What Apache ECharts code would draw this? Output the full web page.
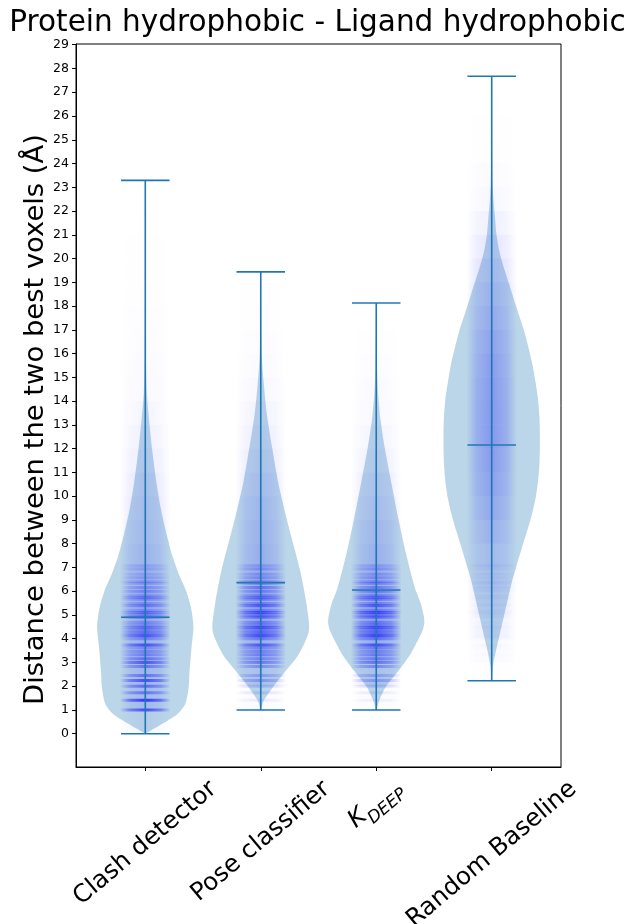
<!DOCTYPE html>
<html>
<head>
<meta charset="utf-8">
<script src="https://cdn.jsdelivr.net/npm/echarts@6/dist/echarts.min.js"></script>
<style>
  html, body { margin: 0; padding: 0; background: #fff; }
  #main { width: 635px; height: 924px; }
</style>
</head>
<body>
<div id="main"></div>
<script>
// categories and summary values (min / max / mean line per violin)
var categories = ['Clash detector', 'Pose classifier', 'K_DEEP', 'Random Baseline'];
var minVals = [0, 1.0, 1.0, 2.23];
var maxVals = [23.29, 19.44, 18.13, 27.67];
var meanVals = [4.9, 6.36, 6.05, 12.15];
var yTicks = [0,1,2,3,4,5,6,7,8,9,10,11,12,13,14,15,16,17,18,19,20,21,22,23,24,25,26,27,28,29];

// violin outlines: distance value and relative half width (1 = widest)
var clashY = [0, 0.25, 0.55, 0.83, 1.25, 1.95, 2.65, 3.63, 4.5, 5.3, 6.0, 6.7, 7.5, 8.5, 9.5, 10.6, 12.0, 13.4, 14.4, 16, 19, 23.29];
var clashW = [0, 0.21, 0.46, 0.67, 0.83, 0.9, 0.92, 0.96, 1.0, 0.95, 0.85, 0.7, 0.56, 0.43, 0.32, 0.23, 0.14, 0.07, 0.03, 0.012, 0.006, 0];
var poseY = [0.97, 1.39, 1.95, 2.65, 3.35, 4.33, 5.45, 6.85, 8.25, 9.2, 10.6, 12.0, 13.4, 14.8, 16, 19.44];
var poseW = [0, 0.06, 0.25, 0.52, 0.79, 1.0, 0.95, 0.82, 0.64, 0.52, 0.36, 0.24, 0.13, 0.06, 0.02, 0];
var kdeepY = [0.97, 1.39, 1.95, 2.65, 3.35, 4.33, 4.75, 5.45, 6.16, 7.56, 8.96, 10.6, 12.0, 13.2, 14.3, 15.5, 18.13];
var kdeepW = [0, 0.06, 0.19, 0.46, 0.71, 0.96, 1.0, 0.93, 0.8, 0.62, 0.47, 0.31, 0.18, 0.09, 0.04, 0.015, 0];
var randomY = [2.23, 2.9, 3.6, 4.3, 5.0, 5.7, 6.4, 7.1, 7.85, 8.5, 9.2, 9.9, 10.6, 11.3, 12.0, 12.7, 13.4, 14.1, 14.8, 15.5, 16.2, 16.9, 17.6, 18.3, 19.0, 19.7, 20.3, 21.0, 21.7, 22.4, 23.1, 24.5, 27.67];
var randomW = [0, 0.03, 0.1, 0.18, 0.26, 0.34, 0.42, 0.52, 0.63, 0.73, 0.83, 0.91, 0.96, 0.99, 1.0, 1.0, 0.99, 0.96, 0.91, 0.85, 0.77, 0.68, 0.57, 0.46, 0.35, 0.24, 0.16, 0.1, 0.07, 0.04, 0.02, 0.008, 0];

// jittered points: stripes at the discrete voxel distances (intensity 0..1)
var stripeLevels = [1, 1.41, 1.73, 2, 2.24, 2.45, 2.83, 3, 3.16, 3.32, 3.46, 3.61, 3.74, 4, 4.12, 4.24, 4.36, 4.47, 4.58, 4.69, 4.9, 5, 5.1, 5.2, 5.39, 5.48, 5.66, 5.74, 5.83, 6, 6.16, 6.32, 6.4, 6.56, 6.71, 6.93, 7.07];
var clashStripes = [0.85, 1.0, 0.55, 0.6, 0.8, 0.55, 0.5, 0.75, 0.55, 0.45, 0.4, 0.35, 0.8, 0.4, 0.75, 0.55, 0.45, 0.55, 0.35, 0.35, 0.55, 0.4, 0.55, 0.35, 0.5, 0.3, 0.35, 0.45, 0.25, 0.4, 0.35, 0.25, 0.3, 0.25, 0.2, 0.2, 0.2];
var poseStripes = [0.05, 0.1, 0.15, 0.2, 0.35, 0.3, 0.4, 0.5, 0.4, 0.45, 0.4, 0.4, 0.75, 0.45, 0.8, 0.6, 0.5, 0.75, 0.45, 0.45, 0.6, 0.5, 0.75, 0.45, 0.7, 0.4, 0.45, 0.5, 0.35, 0.45, 0.5, 0.35, 0.4, 0.35, 0.3, 0.3, 0.25];
var kdeepStripes = [0.05, 0.08, 0.12, 0.2, 0.35, 0.3, 0.45, 0.55, 0.45, 0.45, 0.4, 0.45, 0.8, 0.5, 0.85, 0.6, 0.55, 0.75, 0.5, 0.45, 0.6, 0.5, 0.8, 0.45, 0.7, 0.4, 0.5, 0.55, 0.35, 0.5, 0.45, 0.35, 0.4, 0.35, 0.3, 0.3, 0.25];
var randomStripes = [0, 0, 0, 0, 0, 0, 0, 0, 0, 0.02, 0, 0.02, 0.03, 0.03, 0.04, 0.03, 0.03, 0.05, 0.03, 0.03, 0.05, 0.04, 0.05, 0.04, 0.05, 0.04, 0.05, 0.05, 0.05, 0.06, 0.06, 0.06, 0.06, 0.06, 0.07, 0.07, 0.07];

// jittered points: diffuse cloud, one value per unit bin starting at cloudBins[k]
var cloudBins = [0,1,2,3,4,5,6,7,8,9,10,11,12,13,14,15,16,17,18,19,20,21,22,23,24,25,26,27];
var clashCloud = [0.1, 0.35, 0.4, 0.45, 0.5, 0.5, 0.45, 0.4, 0.34, 0.3, 0.25, 0.19, 0.14, 0.1, 0.07, 0.05, 0.035, 0.025, 0.018, 0.012, 0.008, 0.005, 0.004, 0, 0, 0, 0, 0];
var poseCloud = [0, 0.05, 0.25, 0.45, 0.55, 0.55, 0.5, 0.47, 0.42, 0.37, 0.3, 0.23, 0.17, 0.12, 0.08, 0.05, 0.03, 0.015, 0.008, 0, 0, 0, 0, 0, 0, 0, 0, 0];
var kdeepCloud = [0, 0.04, 0.25, 0.5, 0.6, 0.55, 0.5, 0.44, 0.37, 0.3, 0.23, 0.16, 0.11, 0.07, 0.045, 0.025, 0.012, 0.006, 0, 0, 0, 0, 0, 0, 0, 0, 0, 0];
var randomCloud = [0, 0, 0.02, 0.06, 0.12, 0.18, 0.25, 0.32, 0.42, 0.52, 0.6, 0.66, 0.7, 0.7, 0.68, 0.64, 0.58, 0.5, 0.42, 0.34, 0.25, 0.15, 0.08, 0.04, 0.02, 0.01, 0.005, 0];

var violinY = [clashY, poseY, kdeepY, randomY];
var violinW = [clashW, poseW, kdeepW, randomW];
var stripes = [clashStripes, poseStripes, kdeepStripes, randomStripes];
var clouds = [clashCloud, poseCloud, kdeepCloud, randomCloud];

var Y_MIN = -1.4, Y_MAX = 29.03;
var HALF = 0.417;      // widest violin half width (x units)
var CAP = 0.21;        // cap half width
var SPREAD = 0.22;     // point jitter half width
var BLUE = '#1f77b4';
var FONT = '"DejaVu Sans", sans-serif';

var cloudData = [];
var stripeData = [];
for (var c = 0; c < 4; c++) {
  for (var b = 0; b < cloudBins.length; b++) {
    if (clouds[c][b] > 0) cloudData.push([c + 1, cloudBins[b], clouds[c][b]]);
  }
  for (var s = 0; s < stripeLevels.length; s++) {
    if (stripes[c][s] > 0) stripeData.push([c + 1, stripeLevels[s], stripes[c][s]]);
  }
}

function blueBand(a) {
  return new echarts.graphic.LinearGradient(0, 0, 1, 0, [
    { offset: 0, color: 'rgba(0,0,255,0)' },
    { offset: 0.2, color: 'rgba(0,0,255,' + (a * 0.6) + ')' },
    { offset: 0.5, color: 'rgba(0,0,255,' + a + ')' },
    { offset: 0.8, color: 'rgba(0,0,255,' + (a * 0.6) + ')' },
    { offset: 1, color: 'rgba(0,0,255,0)' }
  ]);
}

var measureCtx = document.createElement('canvas').getContext('2d');
function textWidth(t, size, italic) {
  measureCtx.font = (italic ? 'italic ' : '') + size + 'px "DejaVu Sans"';
  return measureCtx.measureText(t).width;
}

var myChart = echarts.init(document.getElementById('main'));

var option = {
  animation: false,
  backgroundColor: '#fff',
  title: {
    text: 'Protein hydrophobic - Ligand hydrophobic',
    left: 'center',
    top: 3,
    textStyle: { fontFamily: FONT, fontSize: 29.5, fontWeight: 'normal', color: '#000' }
  },
  grid: {
    left: 76, right: 74, top: 44, bottom: 157,
    show: true, borderColor: '#000', borderWidth: 1, backgroundColor: 'transparent'
  },
  xAxis: {
    type: 'value',
    min: 0.4, max: 4.6,
    axisLine: { show: true, onZero: false, lineStyle: { color: '#000', width: 1 } },
    axisTick: { show: true, customValues: [1, 2, 3, 4], length: 4, lineStyle: { color: '#000' } },
    axisLabel: { show: false },
    splitLine: { show: false }
  },
  yAxis: {
    type: 'value',
    min: Y_MIN, max: Y_MAX,
    name: 'Distance between the two best voxels (Å)',
    nameLocation: 'middle',
    nameGap: 27,
    nameMoveOverlap: false,
    nameRotate: 90,
    nameTextStyle: { fontFamily: FONT, fontSize: 27.4, color: '#000', padding: [0, 28, 0, 0] },
    axisLine: { show: true, onZero: false, lineStyle: { color: '#000', width: 1 } },
    axisTick: { show: true, customValues: yTicks, length: 4, lineStyle: { color: '#000' } },
    axisLabel: { customValues: yTicks, fontFamily: FONT, fontSize: 12.5, color: '#000', margin: 7 },
    splitLine: { show: false }
  },
  series: [
    {
      type: 'custom',
      name: 'violin',
      clip: false,
      data: categories.map(function (n, i) { return [i + 1]; }),
      renderItem: function (params, api) {
        var i = params.dataIndex;
        var ys = violinY[i], ws = violinW[i];
        var pts = [], k;
        for (k = 0; k < ys.length; k++) pts.push(api.coord([i + 1 - ws[k] * HALF, ys[k]]));
        for (k = ys.length - 1; k >= 0; k--) pts.push(api.coord([i + 1 + ws[k] * HALF, ys[k]]));
        return {
          type: 'polygon',
          shape: { points: pts, smooth: 0.25 },
          style: { fill: 'rgba(31,119,180,0.3)', stroke: null }
        };
      }
    },
    {
      type: 'custom',
      name: 'cloud',
      clip: false,
      data: cloudData,
      renderItem: function (params, api) {
        var c = api.value(0), lo = api.value(1), a = api.value(2);
        var p1 = api.coord([c - SPREAD, lo + 1]);
        var p2 = api.coord([c + SPREAD, lo]);
        return {
          type: 'rect',
          shape: { x: p1[0], y: p1[1], width: p2[0] - p1[0], height: p2[1] - p1[1] },
          style: { fill: blueBand(a * 0.42) }
        };
      }
    },
    {
      type: 'custom',
      name: 'stripes',
      clip: false,
      data: stripeData,
      renderItem: function (params, api) {
        var c = api.value(0), lv = api.value(1), a = api.value(2);
        var p1 = api.coord([c - SPREAD, lv]);
        var p2 = api.coord([c + SPREAD, lv]);
        return {
          type: 'rect',
          shape: { x: p1[0], y: p1[1] - 1.5, width: p2[0] - p1[0], height: 3 },
          style: { fill: blueBand(a * 0.7) }
        };
      }
    },
    {
      type: 'custom',
      name: 'extrema',
      clip: false,
      data: categories.map(function (n, i) { return [i + 1, minVals[i], maxVals[i], meanVals[i]]; }),
      renderItem: function (params, api) {
        var c = api.value(0);
        var lineStyle = { stroke: BLUE, lineWidth: 1.6 };
        var children = [];
        var top = api.coord([c, api.value(2)]);
        var bot = api.coord([c, api.value(1)]);
        children.push({ type: 'line', shape: { x1: top[0], y1: top[1], x2: bot[0], y2: bot[1] }, style: lineStyle });
        [api.value(1), api.value(2), api.value(3)].forEach(function (v) {
          var a = api.coord([c - CAP, v]), b = api.coord([c + CAP, v]);
          children.push({ type: 'line', shape: { x1: a[0], y1: a[1], x2: b[0], y2: b[1] }, style: lineStyle });
        });
        return { type: 'group', children: children };
      }
    },
    {
      type: 'custom',
      name: 'labels',
      clip: false,
      silent: true,
      data: categories.map(function (n, i) { return [i + 1]; }),
      renderItem: function (params, api) {
        var i = params.dataIndex;
        var name = categories[i];
        var base = api.coord([i + 1, Y_MIN]);
        var ang = 40 * Math.PI / 180;
        var size = 24.5, sub = 17, fh = size * 1.17;
        var w, style;
        if (name === 'K_DEEP') {
          w = textWidth('K', size, true) + textWidth('DEEP', sub, true);
          style = {
            text: '{k|K}{d|DEEP}',
            align: 'center', verticalAlign: 'middle',
            rich: {
              k: { fontFamily: FONT, fontSize: size, fontStyle: 'italic', fill: '#000', verticalAlign: 'top', lineHeight: 29 },
              d: { fontFamily: FONT, fontSize: sub, fontStyle: 'italic', fill: '#000', verticalAlign: 'top', lineHeight: 18, padding: [14, 0, 0, 0] }
            }
          };
        } else {
          w = textWidth(name, size, false);
          style = {
            text: name, fontFamily: FONT, fontSize: size, fill: '#000',
            align: 'center', verticalAlign: 'middle'
          };
        }
        var h = w * Math.sin(ang) + fh * Math.cos(ang);
        return {
          type: 'text',
          x: base[0],
          y: base[1] + 8 + h / 2,
          rotation: ang,
          style: style
        };
      }
    }
  ]
};

myChart.setOption(option);
</script>
</body>
</html>
